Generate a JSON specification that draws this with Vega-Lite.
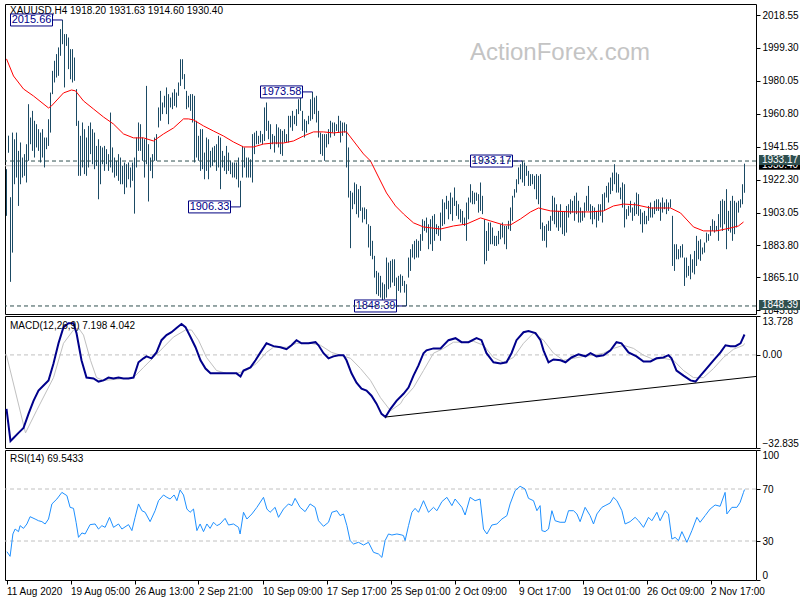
{
"$schema":"https://vega.github.io/schema/vega-lite/v6.json",
"background":"white",
"padding":{"left":2,"top":3,"right":0,"bottom":0},
"spacing":2,
"bounds":"flush",
"config":{
 "view":{"stroke":"black","strokeWidth":1},
 "axis":{"domain":false,"grid":false,"labelFont":"Liberation Sans","labelFontSize":10,"labelColor":"black","tickColor":"black","tickSize":4,"labelPadding":2,"labelOverlap":false},
 "text":{"font":"Liberation Sans"}
},
"datasets":{
"bars":[
{"i":0,"high":1928.4,"low":1901.1},{"i":1,"high":1948.0,"low":1938.0},{"i":2,"high":1912.0,"low":1862.5},{"i":3,"high":1949.8,"low":1879.6},{"i":4,"high":1945.9,"low":1919.6},{"i":5,"high":1949.8,"low":1923.5},{"i":6,"high":1939.1,"low":1906.9},{"i":7,"high":1944.0,"low":1919.6},{"i":8,"high":1935.2,"low":1923.5},{"i":9,"high":1937.2,"low":1924.5},
{"i":10,"high":1943.0,"low":1920.6},{"i":11,"high":1966.4,"low":1933.3},{"i":12,"high":1958.6,"low":1943.0},{"i":13,"high":1962.5,"low":1939.1},{"i":14,"high":1956.7,"low":1935.2},{"i":15,"high":1954.7,"low":1941.1},{"i":16,"high":1951.8,"low":1939.1},{"i":17,"high":1949.8,"low":1932.3},{"i":18,"high":1951.8,"low":1935.2},{"i":19,"high":1946.9,"low":1929.4},
{"i":20,"high":1946.9,"low":1940.1},{"i":21,"high":1957.6,"low":1942.0},{"i":22,"high":1973.2,"low":1949.8},{"i":23,"high":1985.9,"low":1972.3},{"i":24,"high":1991.8,"low":1979.1},{"i":25,"high":1995.7,"low":1982.0},{"i":26,"high":1999.6,"low":1983.0},{"i":27,"high":2010.3,"low":1994.7},{"i":28,"high":2015.66,"low":2001.5},{"i":29,"high":2007.4,"low":1976.2},
{"i":30,"high":2007.4,"low":2000.5},{"i":31,"high":2005.4,"low":1986.9},{"i":32,"high":1998.6,"low":1981.0},{"i":33,"high":1998.6,"low":1979.1},{"i":34,"high":1993.7,"low":1980.1},{"i":35,"high":1975.2,"low":1953.7},{"i":36,"high":1956.7,"low":1924.5},{"i":37,"high":1947.9,"low":1924.5},{"i":38,"high":1955.7,"low":1929.4},{"i":39,"high":1951.8,"low":1925.5},
{"i":40,"high":1946.9,"low":1924.5},{"i":41,"high":1953.7,"low":1929.4},{"i":42,"high":1955.7,"low":1937.2},{"i":43,"high":1951.8,"low":1931.3},{"i":44,"high":1949.8,"low":1928.4},{"i":45,"high":1942.0,"low":1930.3},{"i":46,"high":1945.9,"low":1910.8},{"i":47,"high":1942.0,"low":1919.6},{"i":48,"high":1941.1,"low":1931.3},{"i":49,"high":1942.0,"low":1927.4},
{"i":50,"high":1940.1,"low":1931.3},{"i":51,"high":1937.2,"low":1927.4},{"i":52,"high":1961.5,"low":1929.4},{"i":53,"high":1941.1,"low":1926.4},{"i":54,"high":1935.2,"low":1923.5},{"i":55,"high":1933.3,"low":1924.5},{"i":56,"high":1937.2,"low":1921.6},{"i":57,"high":1935.2,"low":1919.6},{"i":58,"high":1930.3,"low":1919.6},{"i":59,"high":1932.3,"low":1913.8},
{"i":60,"high":1931.3,"low":1917.7},{"i":61,"high":1932.3,"low":1922.5},{"i":62,"high":1929.4,"low":1917.7},{"i":63,"high":1932.3,"low":1921.6},{"i":64,"high":1935.2,"low":1902.4},{"i":65,"high":1946.9,"low":1929.4},{"i":66,"high":1955.7,"low":1939.1},{"i":67,"high":1954.7,"low":1939.1},{"i":68,"high":1946.9,"low":1933.3},{"i":69,"high":1945.9,"low":1923.5},
{"i":70,"high":1977.1,"low":1931.3},{"i":71,"high":1943.0,"low":1909.5},{"i":72,"high":1935.2,"low":1927.4},{"i":73,"high":1937.2,"low":1923.1},{"i":74,"high":1946.9,"low":1933.3},{"i":75,"high":1948.9,"low":1933.3},{"i":76,"high":1964.5,"low":1952.8},{"i":77,"high":1974.2,"low":1956.7},{"i":78,"high":1967.4,"low":1960.6},{"i":79,"high":1971.3,"low":1964.5},
{"i":80,"high":1976.2,"low":1960.6},{"i":81,"high":1972.3,"low":1954.7},{"i":82,"high":1970.3,"low":1964.5},{"i":83,"high":1973.2,"low":1963.5},{"i":84,"high":1975.2,"low":1965.4},{"i":85,"high":1973.2,"low":1964.5},{"i":86,"high":1979.1,"low":1971.3},{"i":87,"high":1992.7,"low":1977.1},{"i":88,"high":1992.7,"low":1981.0},{"i":89,"high":1984.0,"low":1975.2},
{"i":90,"high":1974.2,"low":1963.5},{"i":91,"high":1971.3,"low":1964.5},{"i":92,"high":1972.3,"low":1962.5},{"i":93,"high":1972.3,"low":1955.7},{"i":94,"high":1971.3,"low":1932.3},{"i":95,"high":1956.7,"low":1935.2},{"i":96,"high":1947.9,"low":1933.3},{"i":97,"high":1951.8,"low":1927.4},{"i":98,"high":1951.8,"low":1928.4},{"i":99,"high":1938.1,"low":1922.5},
{"i":100,"high":1946.9,"low":1927.4},{"i":101,"high":1945.9,"low":1922.5},{"i":102,"high":1939.1,"low":1929.4},{"i":103,"high":1941.1,"low":1930.3},{"i":104,"high":1942.0,"low":1932.3},{"i":105,"high":1943.0,"low":1927.4},{"i":106,"high":1947.9,"low":1929.4},{"i":107,"high":1946.9,"low":1916.7},{"i":108,"high":1939.1,"low":1929.4},{"i":109,"high":1936.2,"low":1927.4},
{"i":110,"high":1942.0,"low":1925.5},{"i":111,"high":1938.1,"low":1927.4},{"i":112,"high":1933.3,"low":1925.5},{"i":113,"high":1932.3,"low":1923.5},{"i":114,"high":1932.3,"low":1923.5},{"i":115,"high":1932.3,"low":1922.5},{"i":116,"high":1935.2,"low":1917.7},{"i":117,"high":1921.6,"low":1906.33},{"i":118,"high":1942.0,"low":1923.5},{"i":119,"high":1941.1,"low":1929.4},
{"i":120,"high":1935.2,"low":1923.5},{"i":121,"high":1935.2,"low":1923.5},{"i":122,"high":1934.2,"low":1923.5},{"i":123,"high":1948.9,"low":1920.6},{"i":124,"high":1949.8,"low":1937.2},{"i":125,"high":1950.8,"low":1943.0},{"i":126,"high":1947.9,"low":1943.0},{"i":127,"high":1950.8,"low":1944.0},{"i":128,"high":1948.9,"low":1943.0},{"i":129,"high":1964.5,"low":1944.9},
{"i":130,"high":1967.4,"low":1950.8},{"i":131,"high":1956.7,"low":1945.9},{"i":132,"high":1954.7,"low":1940.1},{"i":133,"high":1948.9,"low":1943.0},{"i":134,"high":1947.9,"low":1938.1},{"i":135,"high":1954.7,"low":1943.0},{"i":136,"high":1952.8,"low":1941.1},{"i":137,"high":1951.8,"low":1937.2},{"i":138,"high":1950.8,"low":1936.2},{"i":139,"high":1951.8,"low":1944.0},
{"i":140,"high":1948.9,"low":1944.0},{"i":141,"high":1959.6,"low":1944.0},{"i":142,"high":1959.6,"low":1952.8},{"i":143,"high":1962.5,"low":1950.8},{"i":144,"high":1959.6,"low":1954.7},{"i":145,"high":1963.5,"low":1953.7},{"i":146,"high":1969.3,"low":1960.6},{"i":147,"high":1970.3,"low":1962.5},{"i":148,"high":1962.5,"low":1950.8},{"i":149,"high":1957.6,"low":1946.9},
{"i":150,"high":1956.7,"low":1949.8},{"i":151,"high":1959.6,"low":1954.7},{"i":152,"high":1969.3,"low":1956.7},{"i":153,"high":1973.58,"low":1957.6},{"i":154,"high":1970.3,"low":1960.6},{"i":155,"high":1971.3,"low":1955.7},{"i":156,"high":1962.5,"low":1946.9},{"i":157,"high":1949.8,"low":1937.2},{"i":158,"high":1948.9,"low":1936.2},{"i":159,"high":1948.9,"low":1933.3},
{"i":160,"high":1948.9,"low":1941.1},{"i":161,"high":1951.8,"low":1943.0},{"i":162,"high":1956.7,"low":1946.9},{"i":163,"high":1955.7,"low":1949.8},{"i":164,"high":1955.7,"low":1947.9},{"i":165,"high":1954.7,"low":1950.8},{"i":166,"high":1959.6,"low":1949.8},{"i":167,"high":1956.7,"low":1944.0},{"i":168,"high":1955.7,"low":1947.9},{"i":169,"high":1955.7,"low":1949.8},
{"i":170,"high":1954.7,"low":1929.4},{"i":171,"high":1941.1,"low":1911.8},{"i":172,"high":1915.7,"low":1882.2},{"i":173,"high":1914.7,"low":1905.0},{"i":174,"high":1920.6,"low":1907.9},{"i":175,"high":1919.6,"low":1902.1},{"i":176,"high":1916.7,"low":1900.1},{"i":177,"high":1918.6,"low":1904.0},{"i":178,"high":1906.0,"low":1897.2},{"i":179,"high":1906.0,"low":1899.1},
{"i":180,"high":1905.0,"low":1896.2},{"i":181,"high":1896.2,"low":1882.6},{"i":182,"high":1895.2,"low":1877.7},{"i":183,"high":1886.5,"low":1875.7},{"i":184,"high":1877.7,"low":1865.0},{"i":185,"high":1868.9,"low":1855.3},{"i":186,"high":1867.9,"low":1854.3},{"i":187,"high":1866.0,"low":1853.3},{"i":188,"high":1862.1,"low":1851.4},{"i":189,"high":1861.1,"low":1852.3},
{"i":190,"high":1876.7,"low":1853.3},{"i":191,"high":1873.8,"low":1858.2},{"i":192,"high":1874.8,"low":1859.2},{"i":193,"high":1875.7,"low":1862.1},{"i":194,"high":1875.7,"low":1860.1},{"i":195,"high":1865.0,"low":1851.4},{"i":196,"high":1866.0,"low":1857.2},{"i":197,"high":1866.9,"low":1856.2},{"i":198,"high":1866.0,"low":1860.1},{"i":199,"high":1863.1,"low":1856.2},
{"i":200,"high":1861.1,"low":1848.39},{"i":201,"high":1876.7,"low":1865.0},{"i":202,"high":1881.6,"low":1868.9},{"i":203,"high":1884.5,"low":1876.7},{"i":204,"high":1886.5,"low":1875.7},{"i":205,"high":1887.4,"low":1876.7},{"i":206,"high":1886.5,"low":1876.7},{"i":207,"high":1890.4,"low":1880.6},{"i":208,"high":1899.1,"low":1886.5},{"i":209,"high":1898.2,"low":1892.3},
{"i":210,"high":1900.1,"low":1891.3},{"i":211,"high":1896.2,"low":1881.6},{"i":212,"high":1899.1,"low":1884.5},{"i":213,"high":1901.1,"low":1880.6},{"i":214,"high":1902.1,"low":1886.5},{"i":215,"high":1896.2,"low":1890.4},{"i":216,"high":1895.2,"low":1889.4},{"i":217,"high":1903.0,"low":1886.5},{"i":218,"high":1910.8,"low":1895.2},{"i":219,"high":1908.9,"low":1896.2},
{"i":220,"high":1912.8,"low":1905.0},{"i":221,"high":1909.9,"low":1899.1},{"i":222,"high":1914.7,"low":1902.1},{"i":223,"high":1911.8,"low":1898.2},{"i":224,"high":1917.7,"low":1906.9},{"i":225,"high":1909.9,"low":1901.1},{"i":226,"high":1907.9,"low":1899.1},{"i":227,"high":1905.0,"low":1897.2},{"i":228,"high":1904.0,"low":1896.2},{"i":229,"high":1900.1,"low":1895.2},
{"i":230,"high":1908.9,"low":1886.5},{"i":231,"high":1911.8,"low":1899.1},{"i":232,"high":1919.6,"low":1908.9},{"i":233,"high":1915.7,"low":1907.9},{"i":234,"high":1914.7,"low":1907.9},{"i":235,"high":1914.7,"low":1909.9},{"i":236,"high":1913.8,"low":1903.0},{"i":237,"high":1920.6,"low":1904.0},{"i":238,"high":1912.8,"low":1902.1},{"i":239,"high":1899.1,"low":1872.8},
{"i":240,"high":1892.3,"low":1874.8},{"i":241,"high":1897.2,"low":1880.6},{"i":242,"high":1897.2,"low":1884.5},{"i":243,"high":1894.3,"low":1884.5},{"i":244,"high":1889.4,"low":1883.5},{"i":245,"high":1889.4,"low":1883.5},{"i":246,"high":1892.3,"low":1884.5},{"i":247,"high":1896.2,"low":1887.4},{"i":248,"high":1897.2,"low":1888.4},{"i":249,"high":1895.2,"low":1884.5},
{"i":250,"high":1895.2,"low":1881.6},{"i":251,"high":1898.2,"low":1893.3},{"i":252,"high":1906.0,"low":1892.3},{"i":253,"high":1912.8,"low":1898.2},{"i":254,"high":1916.7,"low":1911.8},{"i":255,"high":1922.5,"low":1914.7},{"i":256,"high":1929.4,"low":1919.6},{"i":257,"high":1931.3,"low":1922.5},{"i":258,"high":1933.17,"low":1920.6},{"i":259,"high":1932.3,"low":1918.6},
{"i":260,"high":1930.3,"low":1924.5},{"i":261,"high":1927.4,"low":1918.6},{"i":262,"high":1925.5,"low":1918.6},{"i":263,"high":1925.5,"low":1919.6},{"i":264,"high":1924.5,"low":1916.7},{"i":265,"high":1925.5,"low":1910.8},{"i":266,"high":1924.5,"low":1907.9},{"i":267,"high":1925.5,"low":1893.3},{"i":268,"high":1897.2,"low":1886.5},{"i":269,"high":1895.2,"low":1886.5},
{"i":270,"high":1896.2,"low":1882.6},{"i":271,"high":1898.2,"low":1892.3},{"i":272,"high":1901.1,"low":1892.3},{"i":273,"high":1912.8,"low":1898.2},{"i":274,"high":1911.8,"low":1896.2},{"i":275,"high":1907.9,"low":1894.3},{"i":276,"high":1904.0,"low":1892.3},{"i":277,"high":1907.9,"low":1894.3},{"i":278,"high":1904.0,"low":1890.4},{"i":279,"high":1904.0,"low":1889.4},
{"i":280,"high":1906.9,"low":1891.3},{"i":281,"high":1907.9,"low":1900.1},{"i":282,"high":1910.8,"low":1902.1},{"i":283,"high":1909.9,"low":1903.0},{"i":284,"high":1912.8,"low":1898.2},{"i":285,"high":1914.7,"low":1902.1},{"i":286,"high":1909.9,"low":1897.2},{"i":287,"high":1906.0,"low":1897.2},{"i":288,"high":1904.0,"low":1898.2},{"i":289,"high":1908.9,"low":1900.1},
{"i":290,"high":1912.8,"low":1904.0},{"i":291,"high":1918.6,"low":1904.0},{"i":292,"high":1907.9,"low":1899.1},{"i":293,"high":1906.9,"low":1896.2},{"i":294,"high":1906.0,"low":1899.1},{"i":295,"high":1904.0,"low":1894.3},{"i":296,"high":1907.9,"low":1898.2},{"i":297,"high":1907.9,"low":1901.1},{"i":298,"high":1913.8,"low":1897.2},{"i":299,"high":1914.7,"low":1904.0},
{"i":300,"high":1918.6,"low":1911.8},{"i":301,"high":1920.6,"low":1908.9},{"i":302,"high":1923.5,"low":1913.8},{"i":303,"high":1926.4,"low":1915.7},{"i":304,"high":1931.3,"low":1919.6},{"i":305,"high":1926.4,"low":1914.7},{"i":306,"high":1925.5,"low":1914.7},{"i":307,"high":1917.7,"low":1910.8},{"i":308,"high":1920.6,"low":1905.9},{"i":309,"high":1919.6,"low":1894.3},
{"i":310,"high":1905.0,"low":1899.1},{"i":311,"high":1906.9,"low":1901.1},{"i":312,"high":1909.9,"low":1903.0},{"i":313,"high":1906.0,"low":1898.2},{"i":314,"high":1908.9,"low":1901.1},{"i":315,"high":1914.7,"low":1902.1},{"i":316,"high":1913.8,"low":1901.1},{"i":317,"high":1905.0,"low":1896.2},{"i":318,"high":1903.0,"low":1891.3},{"i":319,"high":1904.0,"low":1896.2},
{"i":320,"high":1901.1,"low":1896.2},{"i":321,"high":1906.9,"low":1898.2},{"i":322,"high":1908.9,"low":1900.1},{"i":323,"high":1906.0,"low":1900.1},{"i":324,"high":1909.9,"low":1902.1},{"i":325,"high":1910.8,"low":1904.0},{"i":326,"high":1910.8,"low":1904.0},{"i":327,"high":1908.9,"low":1898.2},{"i":328,"high":1911.8,"low":1903.0},{"i":329,"high":1908.9,"low":1905.0},
{"i":330,"high":1910.8,"low":1902.1},{"i":331,"high":1908.9,"low":1904.0},{"i":332,"high":1910.8,"low":1905.9},{"i":333,"high":1901.1,"low":1871.8},{"i":334,"high":1884.5,"low":1868.9},{"i":335,"high":1884.5,"low":1875.7},{"i":336,"high":1881.6,"low":1875.7},{"i":337,"high":1883.5,"low":1876.7},{"i":338,"high":1884.5,"low":1876.7},{"i":339,"high":1876.7,"low":1860.1},
{"i":340,"high":1876.7,"low":1865.0},{"i":341,"high":1871.8,"low":1866.0},{"i":342,"high":1878.6,"low":1864.0},{"i":343,"high":1875.7,"low":1867.9},{"i":344,"high":1880.6,"low":1866.9},{"i":345,"high":1889.4,"low":1871.8},{"i":346,"high":1886.5,"low":1875.7},{"i":347,"high":1887.4,"low":1874.8},{"i":348,"high":1882.6,"low":1878.6},{"i":349,"high":1885.5,"low":1879.6},
{"i":350,"high":1891.3,"low":1885.5},{"i":351,"high":1890.4,"low":1886.5},{"i":352,"high":1895.2,"low":1889.4},{"i":353,"high":1899.1,"low":1892.3},{"i":354,"high":1898.2,"low":1891.3},{"i":355,"high":1895.2,"low":1892.3},{"i":356,"high":1902.1,"low":1886.5},{"i":357,"high":1909.9,"low":1894.3},{"i":358,"high":1910.8,"low":1892.3},{"i":359,"high":1909.9,"low":1896.2},
{"i":360,"high":1916.7,"low":1881.6},{"i":361,"high":1904.0,"low":1892.3},{"i":362,"high":1909.9,"low":1891.3},{"i":363,"high":1912.8,"low":1886.5},{"i":364,"high":1909.9,"low":1890.4},{"i":365,"high":1908.9,"low":1894.3},{"i":366,"high":1909.9,"low":1903.0},{"i":367,"high":1910.8,"low":1905.9},{"i":368,"high":1919.6,"low":1907.9},{"i":369,"high":1931.63,"low":1914.6}
],
"ma":[
{"i":0,"ma":1992.9},{"i":3.5,"ma":1982.9},{"i":8.5,"ma":1975.3},{"i":13.5,"ma":1971.2},{"i":21,"ma":1964.2},{"i":22.5,"ma":1965.4},{"i":28.5,"ma":1973.0},{"i":32.5,"ma":1974.7},{"i":34.5,"ma":1974.2},{"i":38.5,"ma":1968.3},{"i":43.5,"ma":1963.6},{"i":48.5,"ma":1958.9},{"i":53.5,"ma":1954.8},{"i":58.5,"ma":1949.0},{"i":63.5,"ma":1946.7},{"i":68.5,"ma":1946.7},{"i":73.5,"ma":1944.9},{"i":78.5,"ma":1949.0},{"i":83.5,"ma":1952.5},{"i":88.5,"ma":1957.8},{"i":91,"ma":1957.8},{"i":93.5,"ma":1957.2},{"i":98.5,"ma":1953.7},{"i":103.5,"ma":1950.7},{"i":108.5,"ma":1947.8},{"i":113.5,"ma":1944.3},{"i":118.5,"ma":1941.4},{"i":123.5,"ma":1941.4},{"i":128.5,"ma":1943.1},{"i":133.5,"ma":1943.7},{"i":138.5,"ma":1943.7},{"i":143.5,"ma":1944.9},{"i":148.5,"ma":1947.8},{"i":153.5,"ma":1950.2},{"i":158.5,"ma":1950.2},{"i":163.5,"ma":1949.6},{"i":168.5,"ma":1950.2},{"i":170,"ma":1950.2},{"i":173.5,"ma":1944.9},{"i":178.5,"ma":1937.3},{"i":182,"ma":1933.2},{"i":186,"ma":1923.8},{"i":190,"ma":1914.5},{"i":194.5,"ma":1906.9},{"i":198.5,"ma":1902.2},{"i":203.5,"ma":1897.0},{"i":208.5,"ma":1894.6},{"i":217,"ma":1893.4},{"i":223.5,"ma":1895.2},{"i":230,"ma":1896.3},{"i":237,"ma":1899.9},{"i":242,"ma":1898.1},{"i":248.5,"ma":1895.8},{"i":252,"ma":1895.8},{"i":257,"ma":1899.3},{"i":262,"ma":1903.4},{"i":266,"ma":1905.7},{"i":272,"ma":1904.0},{"i":282,"ma":1903.4},{"i":292,"ma":1903.4},{"i":298.5,"ma":1904.0},{"i":303.5,"ma":1906.9},{"i":308.5,"ma":1908.0},{"i":315,"ma":1907.5},{"i":322,"ma":1905.7},{"i":332,"ma":1905.7},{"i":337,"ma":1902.8},{"i":343.5,"ma":1894.6},{"i":348.5,"ma":1892.3},{"i":355,"ma":1892.3},{"i":362,"ma":1894.0},{"i":366,"ma":1895.2},{"i":368.5,"ma":1897.5}
],
"macd":[
{"i":0,"macd":-19.0},{"i":2,"macd":-30.4},{"i":3.5,"macd":-29.3},{"i":6,"macd":-27.5},{"i":8.5,"macd":-25.8},{"i":11,"macd":-20.8},{"i":13.5,"macd":-16.2},{"i":16,"macd":-12.6},{"i":18.5,"macd":-10.8},{"i":21,"macd":-9.0},{"i":23.5,"macd":-3.0},{"i":26,"macd":4.1},{"i":28.5,"macd":9.8},{"i":31,"macd":11.2},{"i":33.5,"macd":11.2},{"i":35,"macd":7.7},{"i":37.5,"macd":-1.9},{"i":40,"macd":-8.0},{"i":43.5,"macd":-8.3},{"i":46,"macd":-9.4},{"i":48.5,"macd":-9.0},{"i":51,"macd":-8.0},{"i":53.5,"macd":-8.3},{"i":56,"macd":-8.0},{"i":58.5,"macd":-8.3},{"i":61,"macd":-8.3},{"i":63.5,"macd":-8.0},{"i":66,"macd":-2.6},{"i":68.5,"macd":-1.2},{"i":70,"macd":-0.5},{"i":72.5,"macd":-1.2},{"i":75,"macd":0.9},{"i":77.5,"macd":5.2},{"i":80,"macd":7.0},{"i":82.5,"macd":8.0},{"i":85,"macd":9.5},{"i":87.5,"macd":10.9},{"i":89.5,"macd":9.8},{"i":92,"macd":6.3},{"i":94.5,"macd":2.7},{"i":97,"macd":-1.9},{"i":99.5,"macd":-4.8},{"i":102,"macd":-6.5},{"i":105,"macd":-6.5},{"i":108.5,"macd":-6.5},{"i":112,"macd":-6.5},{"i":115,"macd":-6.5},{"i":117,"macd":-7.6},{"i":118.5,"macd":-5.5},{"i":122,"macd":-4.4},{"i":124.5,"macd":-1.9},{"i":127,"macd":0.9},{"i":130,"macd":4.1},{"i":133.5,"macd":3.1},{"i":137,"macd":2.7},{"i":140,"macd":2.0},{"i":142.5,"macd":3.4},{"i":145,"macd":5.2},{"i":147.5,"macd":4.1},{"i":151,"macd":4.1},{"i":154.5,"macd":4.5},{"i":156,"macd":3.4},{"i":158.5,"macd":0.6},{"i":161,"macd":-1.2},{"i":163.5,"macd":-0.5},{"i":166,"macd":-0.1},{"i":168.5,"macd":-0.1},{"i":170,"macd":-1.9},{"i":172.5,"macd":-6.5},{"i":175,"macd":-9.8},{"i":177.5,"macd":-11.9},{"i":180,"macd":-12.6},{"i":182.5,"macd":-14.4},{"i":185,"macd":-17.2},{"i":187.5,"macd":-20.8},{"i":189.5,"macd":-21.9},{"i":192,"macd":-19.0},{"i":195,"macd":-16.2},{"i":198.5,"macd":-13.7},{"i":201,"macd":-11.5},{"i":203.5,"macd":-7.3},{"i":206,"macd":-3.7},{"i":208.5,"macd":0.6},{"i":210,"macd":1.6},{"i":213.5,"macd":2.3},{"i":217,"macd":2.3},{"i":221,"macd":5.2},{"i":224.5,"macd":5.9},{"i":227.5,"macd":4.5},{"i":231,"macd":4.5},{"i":235,"macd":5.9},{"i":237.5,"macd":5.2},{"i":240,"macd":0.6},{"i":243.5,"macd":-2.6},{"i":247,"macd":-3.0},{"i":250,"macd":-2.6},{"i":252.5,"macd":0.6},{"i":255,"macd":5.2},{"i":258.5,"macd":8.0},{"i":261,"macd":8.4},{"i":264.5,"macd":7.7},{"i":267,"macd":5.2},{"i":268.5,"macd":1.6},{"i":271,"macd":-2.6},{"i":273.5,"macd":-1.6},{"i":277,"macd":-1.9},{"i":279.5,"macd":-2.6},{"i":282.5,"macd":-0.9},{"i":286,"macd":0.2},{"i":289.5,"macd":-0.5},{"i":292,"macd":0.6},{"i":295,"macd":-0.5},{"i":298.5,"macd":-0.1},{"i":302,"macd":1.6},{"i":305,"macd":4.5},{"i":307.5,"macd":4.1},{"i":311,"macd":0.9},{"i":315,"macd":-0.5},{"i":318.5,"macd":-2.3},{"i":322,"macd":-2.3},{"i":325,"macd":-1.2},{"i":328.5,"macd":-0.9},{"i":331,"macd":-0.1},{"i":332.5,"macd":-1.2},{"i":335,"macd":-5.5},{"i":338.5,"macd":-7.3},{"i":342,"macd":-9.0},{"i":344.5,"macd":-9.4},{"i":347,"macd":-7.3},{"i":350,"macd":-4.8},{"i":353.5,"macd":-1.9},{"i":357,"macd":0.9},{"i":359.5,"macd":3.4},{"i":362,"macd":3.1},{"i":364.5,"macd":3.1},{"i":367,"macd":4.1},{"i":369,"macd":7.198}
],
"signal":[
{"i":0,"signal":-0.1},{"i":9.5,"signal":-27.5},{"i":15,"signal":-19.7},{"i":23.5,"signal":-8.0},{"i":28.5,"signal":4.1},{"i":33.5,"signal":8.8},{"i":36,"signal":9.5},{"i":38.5,"signal":7.0},{"i":42,"signal":-1.9},{"i":45,"signal":-8.0},{"i":48.5,"signal":-9.0},{"i":63.5,"signal":-8.0},{"i":68.5,"signal":-4.4},{"i":73.5,"signal":-0.9},{"i":78.5,"signal":2.7},{"i":83.5,"signal":6.3},{"i":89.5,"signal":8.8},{"i":92.5,"signal":8.8},{"i":96,"signal":5.2},{"i":100,"signal":-0.9},{"i":105,"signal":-5.5},{"i":110,"signal":-6.5},{"i":115,"signal":-6.5},{"i":120,"signal":-5.5},{"i":125,"signal":-3.0},{"i":130,"signal":0.9},{"i":133.5,"signal":2.7},{"i":140,"signal":2.7},{"i":145,"signal":4.1},{"i":152,"signal":4.1},{"i":157,"signal":3.4},{"i":162.5,"signal":0.9},{"i":167,"signal":-0.1},{"i":172,"signal":-1.2},{"i":177,"signal":-4.8},{"i":182,"signal":-9.0},{"i":187,"signal":-15.1},{"i":192,"signal":-19.7},{"i":197,"signal":-17.2},{"i":198.5,"signal":-15.4},{"i":203.5,"signal":-11.5},{"i":208.5,"signal":-5.5},{"i":213.5,"signal":0.6},{"i":218.5,"signal":2.3},{"i":223.5,"signal":4.5},{"i":228.5,"signal":4.5},{"i":233.5,"signal":4.8},{"i":238.5,"signal":3.4},{"i":243.5,"signal":-0.9},{"i":248.5,"signal":-2.6},{"i":253.5,"signal":-0.9},{"i":258.5,"signal":4.1},{"i":263.5,"signal":7.7},{"i":268.5,"signal":5.2},{"i":273.5,"signal":0.6},{"i":278.5,"signal":-1.9},{"i":283.5,"signal":-1.2},{"i":288.5,"signal":-0.5},{"i":293.5,"signal":-0.1},{"i":298.5,"signal":0.6},{"i":303.5,"signal":2.3},{"i":308.5,"signal":3.4},{"i":313.5,"signal":2.3},{"i":318.5,"signal":-0.1},{"i":323.5,"signal":-1.6},{"i":328.5,"signal":-1.2},{"i":333.5,"signal":-1.9},{"i":338.5,"signal":-5.5},{"i":343.5,"signal":-8.0},{"i":348.5,"signal":-8.0},{"i":353.5,"signal":-4.8},{"i":358.5,"signal":-0.9},{"i":363.5,"signal":2.0},{"i":368.5,"signal":3.4},{"i":369,"signal":4.042}
],
"trend":[{"i":189.5,"macd":-21.9},{"i":374.75,"macd":-7.6}],
"rsi":[
{"i":0.2,"rsi":21.8},{"i":1.8,"rsi":18.2},{"i":3.2,"rsi":35.4},{"i":4.3,"rsi":39.2},{"i":6,"rsi":37.2},{"i":6.8,"rsi":41.8},{"i":8.5,"rsi":39.7},{"i":10.2,"rsi":43.1},{"i":11.8,"rsi":48.7},{"i":14.3,"rsi":46.9},{"i":16,"rsi":45.6},{"i":17.7,"rsi":44.9},{"i":19.3,"rsi":43.1},{"i":21,"rsi":46.9},{"i":22.7,"rsi":58.5},{"i":25.2,"rsi":62.3},{"i":27.7,"rsi":67.4},{"i":30.2,"rsi":64.9},{"i":31.8,"rsi":55.9},{"i":33.5,"rsi":55.1},{"i":34.8,"rsi":44.4},{"i":36,"rsi":32.8},{"i":37.7,"rsi":36.2},{"i":39.3,"rsi":35.4},{"i":41.8,"rsi":42.6},{"i":44.3,"rsi":43.1},{"i":46,"rsi":39.2},{"i":47.7,"rsi":41.8},{"i":49.3,"rsi":40.5},{"i":51.5,"rsi":48.2},{"i":53.5,"rsi":40.5},{"i":56,"rsi":43.1},{"i":57.7,"rsi":39.2},{"i":61,"rsi":42.6},{"i":62.7,"rsi":38.0},{"i":64.3,"rsi":48.2},{"i":66,"rsi":58.5},{"i":67.7,"rsi":53.3},{"i":69.3,"rsi":52.1},{"i":71.8,"rsi":44.9},{"i":74.3,"rsi":53.3},{"i":76,"rsi":61.0},{"i":78.5,"rsi":65.4},{"i":80.2,"rsi":63.6},{"i":81.8,"rsi":62.3},{"i":83.8,"rsi":65.4},{"i":85.2,"rsi":61.0},{"i":86.8,"rsi":69.2},{"i":88.5,"rsi":65.4},{"i":90.2,"rsi":54.6},{"i":91.8,"rsi":52.1},{"i":93.5,"rsi":54.6},{"i":95.2,"rsi":38.0},{"i":96.8,"rsi":43.1},{"i":98.5,"rsi":37.2},{"i":100.2,"rsi":43.1},{"i":101.8,"rsi":39.7},{"i":103.5,"rsi":44.4},{"i":105.2,"rsi":41.8},{"i":106.8,"rsi":43.1},{"i":109.3,"rsi":47.4},{"i":111,"rsi":42.3},{"i":113.5,"rsi":43.1},{"i":116,"rsi":40.5},{"i":116.8,"rsi":35.4},{"i":118.5,"rsi":52.1},{"i":120.2,"rsi":46.9},{"i":122.7,"rsi":50.8},{"i":125.2,"rsi":55.9},{"i":128.5,"rsi":63.6},{"i":130.2,"rsi":54.6},{"i":131.8,"rsi":52.1},{"i":134.3,"rsi":55.9},{"i":136,"rsi":48.2},{"i":138.5,"rsi":54.6},{"i":141,"rsi":58.5},{"i":142.7,"rsi":57.2},{"i":144.3,"rsi":62.8},{"i":146.8,"rsi":55.9},{"i":149.3,"rsi":52.6},{"i":151.8,"rsi":58.5},{"i":154.3,"rsi":55.9},{"i":156,"rsi":45.6},{"i":158.5,"rsi":41.3},{"i":161,"rsi":44.4},{"i":162.7,"rsi":52.1},{"i":165.2,"rsi":53.3},{"i":166.8,"rsi":49.5},{"i":168.5,"rsi":50.8},{"i":170.2,"rsi":41.8},{"i":171.8,"rsi":30.3},{"i":173.5,"rsi":27.7},{"i":176,"rsi":29.0},{"i":178.5,"rsi":26.9},{"i":181,"rsi":29.0},{"i":183.5,"rsi":21.3},{"i":186,"rsi":20.0},{"i":187.7,"rsi":17.4},{"i":189.3,"rsi":30.3},{"i":191,"rsi":35.4},{"i":192.7,"rsi":34.6},{"i":195.2,"rsi":35.4},{"i":197.7,"rsi":34.6},{"i":198.5,"rsi":34.1},{"i":199.3,"rsi":30.3},{"i":201,"rsi":41.8},{"i":202.7,"rsi":52.1},{"i":204.3,"rsi":55.1},{"i":206,"rsi":52.1},{"i":208.5,"rsi":61.0},{"i":211,"rsi":52.1},{"i":213.5,"rsi":55.9},{"i":215.2,"rsi":53.3},{"i":217.7,"rsi":60.3},{"i":220.2,"rsi":63.6},{"i":222.7,"rsi":57.2},{"i":224.3,"rsi":62.3},{"i":227.7,"rsi":55.9},{"i":229.3,"rsi":50.0},{"i":231.8,"rsi":63.6},{"i":234.3,"rsi":61.0},{"i":236.8,"rsi":62.3},{"i":238.5,"rsi":39.2},{"i":240.2,"rsi":35.4},{"i":242.7,"rsi":42.3},{"i":245.2,"rsi":43.1},{"i":247.7,"rsi":46.9},{"i":250.2,"rsi":49.5},{"i":251.8,"rsi":58.5},{"i":254.3,"rsi":68.7},{"i":256.8,"rsi":72.1},{"i":259.3,"rsi":70.0},{"i":261,"rsi":62.8},{"i":263.5,"rsi":61.0},{"i":265.2,"rsi":53.3},{"i":266.8,"rsi":57.2},{"i":267.7,"rsi":38.0},{"i":269.3,"rsi":37.2},{"i":271,"rsi":39.2},{"i":272.7,"rsi":53.3},{"i":274.3,"rsi":45.6},{"i":276.8,"rsi":44.4},{"i":279.3,"rsi":44.4},{"i":281,"rsi":53.3},{"i":283.5,"rsi":53.3},{"i":285.2,"rsi":50.8},{"i":286.8,"rsi":44.9},{"i":289.3,"rsi":55.9},{"i":291.8,"rsi":49.5},{"i":293.5,"rsi":43.1},{"i":295.2,"rsi":50.8},{"i":297.7,"rsi":55.9},{"i":299.3,"rsi":57.2},{"i":301.8,"rsi":59.2},{"i":303.5,"rsi":63.6},{"i":305.2,"rsi":61.0},{"i":307.7,"rsi":53.3},{"i":309.3,"rsi":43.1},{"i":311.8,"rsi":44.9},{"i":314.3,"rsi":48.2},{"i":316,"rsi":45.6},{"i":318.5,"rsi":40.5},{"i":321,"rsi":48.2},{"i":322.7,"rsi":45.6},{"i":325.2,"rsi":52.1},{"i":326.8,"rsi":45.6},{"i":329.3,"rsi":53.3},{"i":331,"rsi":50.8},{"i":332.7,"rsi":31.5},{"i":334.3,"rsi":32.8},{"i":336,"rsi":30.3},{"i":337.7,"rsi":37.2},{"i":340.2,"rsi":29.0},{"i":342.7,"rsi":38.0},{"i":345.2,"rsi":48.2},{"i":346.8,"rsi":44.4},{"i":349.3,"rsi":49.5},{"i":351.8,"rsi":54.6},{"i":354.3,"rsi":57.7},{"i":356.8,"rsi":56.7},{"i":359.3,"rsi":67.4},{"i":360.2,"rsi":50.8},{"i":362.7,"rsi":55.9},{"i":365.2,"rsi":55.9},{"i":366.8,"rsi":59.7},{"i":368.5,"rsi":67.4},{"i":369,"rsi":69.5433}
],
"labels":[{"i":28,"price":2015.66,"label":"2015.66"},{"i":153,"price":1973.58,"label":"1973.58"},{"i":117,"price":1906.33,"label":"1906.33"},{"i":200,"price":1848.39,"label":"1848.39"},{"i":258,"price":1933.17,"label":"1933.17"}]
},
"vconcat":[
{
"width":751,"height":310,
"layer":[
{"data":{"values":[{"price":1930.40}]},"mark":{"type":"rule","color":"#c0c0c0","strokeWidth":1},
 "encoding":{"y":{"field":"price","type":"quantitative","scale":{"domain":[1843.7,2025.0],"nice":false,"zero":false},"axis":{"orient":"right","values":[2018.55,1999.3,1980.05,1960.8,1941.55,1922.3,1903.05,1883.8,1865.1,1845.85],"format":".2f","title":null}}}},
{"data":{"name":"bars"},"mark":{"type":"rule","color":"#1b4a64","strokeWidth":1},
 "encoding":{
  "x":{"field":"i","type":"quantitative","scale":{"domain":[-0.75,374.75],"nice":false,"zero":false},"axis":null},
  "y":{"field":"high","type":"quantitative","scale":{"domain":[1843.7,2025.0],"nice":false,"zero":false},"axis":{"orient":"right","values":[2018.55,1999.3,1980.05,1960.8,1941.55,1922.3,1903.05,1883.8,1865.1,1845.85],"format":".2f","title":null}},
  "y2":{"field":"low"}}},
{"data":{"name":"ma"},"mark":{"type":"line","color":"#ff0000","strokeWidth":1},
 "encoding":{
  "x":{"field":"i","type":"quantitative","scale":{"domain":[-0.75,374.75],"nice":false,"zero":false},"axis":null},
  "y":{"field":"ma","type":"quantitative","scale":{"domain":[1843.7,2025.0],"nice":false,"zero":false},"axis":{"orient":"right","values":[2018.55,1999.3,1980.05,1960.8,1941.55,1922.3,1903.05,1883.8,1865.1,1845.85],"format":".2f","title":null}}}},
{"data":{"values":[{}]},"mark":{"type":"text","align":"left","baseline":"middle","fontSize":10,"color":"black"},
 "encoding":{
  "x":{"datum":1.75,"type":"quantitative","scale":{"domain":[-0.75,374.75],"nice":false,"zero":false},"axis":null},
  "y":{"datum":2020.9,"type":"quantitative","scale":{"domain":[1843.7,2025.0],"nice":false,"zero":false},"axis":{"orient":"right","values":[2018.55,1999.3,1980.05,1960.8,1941.55,1922.3,1903.05,1883.8,1865.1,1845.85],"format":".2f","title":null}},
  "text":{"value":"XAUUSD,H4  1918.20 1931.63 1914.60 1930.40"}}},
{"data":{"values":[{}]},"mark":{"type":"text","align":"center","baseline":"middle","fontSize":24,"color":"#c4c4c4"},
 "encoding":{
  "x":{"datum":276.75,"type":"quantitative","scale":{"domain":[-0.75,374.75],"nice":false,"zero":false},"axis":null},
  "y":{"datum":1996.3,"type":"quantitative","scale":{"domain":[1843.7,2025.0],"nice":false,"zero":false},"axis":{"orient":"right","values":[2018.55,1999.3,1980.05,1960.8,1941.55,1922.3,1903.05,1883.8,1865.1,1845.85],"format":".2f","title":null}},
  "text":{"value":"ActionForex.com"}}},
{"data":{"name":"labels"},"mark":{"type":"point","shape":"M-52,-6H-10V6H-52Z M-10,0H0","size":4,"filled":true,"fill":"white","stroke":"#000080","strokeWidth":1,"opacity":1},
 "encoding":{
  "x":{"field":"i","type":"quantitative","scale":{"domain":[-0.75,374.75],"nice":false,"zero":false},"axis":null},
  "y":{"field":"price","type":"quantitative","scale":{"domain":[1843.7,2025.0],"nice":false,"zero":false},"axis":{"orient":"right","values":[2018.55,1999.3,1980.05,1960.8,1941.55,1922.3,1903.05,1883.8,1865.1,1845.85],"format":".2f","title":null}}}},
{"data":{"name":"labels"},"mark":{"type":"text","dx":-31,"align":"center","baseline":"middle","fontSize":11,"color":"#00008b"},
 "encoding":{
  "x":{"field":"i","type":"quantitative","scale":{"domain":[-0.75,374.75],"nice":false,"zero":false},"axis":null},
  "y":{"field":"price","type":"quantitative","scale":{"domain":[1843.7,2025.0],"nice":false,"zero":false},"axis":{"orient":"right","values":[2018.55,1999.3,1980.05,1960.8,1941.55,1922.3,1903.05,1883.8,1865.1,1845.85],"format":".2f","title":null}},
  "text":{"field":"label"}}},
{"data":{"values":[{"price":1933.17},{"price":1848.39}]},"mark":{"type":"rule","color":"#2f4f4f","strokeWidth":1,"strokeDash":[4,3]},
 "encoding":{"y":{"field":"price","type":"quantitative","scale":{"domain":[1843.7,2025.0],"nice":false,"zero":false},"axis":{"orient":"right","values":[2018.55,1999.3,1980.05,1960.8,1941.55,1922.3,1903.05,1883.8,1865.1,1845.85],"format":".2f","title":null}}}},
{"data":{"values":[{"price":1930.40,"label":"1930.40"}]},"mark":{"type":"point","shape":"M0,-6H42V4H0Z","size":4,"filled":true,"fill":"black","strokeWidth":0,"opacity":1},
 "encoding":{
  "x":{"datum":376.25,"type":"quantitative","scale":{"domain":[-0.75,374.75],"nice":false,"zero":false},"axis":null},
  "y":{"field":"price","type":"quantitative","scale":{"domain":[1843.7,2025.0],"nice":false,"zero":false},"axis":{"orient":"right","values":[2018.55,1999.3,1980.05,1960.8,1941.55,1922.3,1903.05,1883.8,1865.1,1845.85],"format":".2f","title":null}}}},
{"data":{"values":[{"price":1930.40,"label":"1930.40"}]},"mark":{"type":"text","dx":21,"dy":-1,"align":"center","baseline":"middle","fontSize":10,"color":"white"},
 "encoding":{
  "x":{"datum":376.25,"type":"quantitative","scale":{"domain":[-0.75,374.75],"nice":false,"zero":false},"axis":null},
  "y":{"field":"price","type":"quantitative","scale":{"domain":[1843.7,2025.0],"nice":false,"zero":false},"axis":{"orient":"right","values":[2018.55,1999.3,1980.05,1960.8,1941.55,1922.3,1903.05,1883.8,1865.1,1845.85],"format":".2f","title":null}},
  "text":{"field":"label"}}},
{"data":{"values":[{"price":1933.17,"label":"1933.17"},{"price":1848.39,"label":"1848.39"}]},"mark":{"type":"point","shape":"M0,-6H42V4H0Z","size":4,"filled":true,"fill":"#2f4f4f","strokeWidth":0,"opacity":1},
 "encoding":{
  "x":{"datum":376.25,"type":"quantitative","scale":{"domain":[-0.75,374.75],"nice":false,"zero":false},"axis":null},
  "y":{"field":"price","type":"quantitative","scale":{"domain":[1843.7,2025.0],"nice":false,"zero":false},"axis":{"orient":"right","values":[2018.55,1999.3,1980.05,1960.8,1941.55,1922.3,1903.05,1883.8,1865.1,1845.85],"format":".2f","title":null}}}},
{"data":{"values":[{"price":1933.17,"label":"1933.17"},{"price":1848.39,"label":"1848.39"}]},"mark":{"type":"text","dx":21,"dy":-1,"align":"center","baseline":"middle","fontSize":10,"color":"white"},
 "encoding":{
  "x":{"datum":376.25,"type":"quantitative","scale":{"domain":[-0.75,374.75],"nice":false,"zero":false},"axis":null},
  "y":{"field":"price","type":"quantitative","scale":{"domain":[1843.7,2025.0],"nice":false,"zero":false},"axis":{"orient":"right","values":[2018.55,1999.3,1980.05,1960.8,1941.55,1922.3,1903.05,1883.8,1865.1,1845.85],"format":".2f","title":null}},
  "text":{"field":"label"}}}
]
},
{
"width":751,"height":132,
"layer":[
{"data":{"values":[{"macd":0}]},"mark":{"type":"rule","color":"#c0c0c0","strokeWidth":1,"strokeDash":[4,3]},
 "encoding":{"y":{"field":"macd","type":"quantitative","scale":{"domain":[-32.835,13.728],"nice":false,"zero":false},"axis":{"orient":"right","values":[-32.835,0,13.728],"labelExpr":"datum.value == 0 ? '0.00' : format(datum.value, '.3f')","labelFlush":true,"title":null}}}},
{"data":{"name":"signal"},"mark":{"type":"line","color":"#c0c0c0","strokeWidth":1},
 "encoding":{
  "x":{"field":"i","type":"quantitative","scale":{"domain":[-0.75,374.75],"nice":false,"zero":false},"axis":null},
  "y":{"field":"signal","type":"quantitative","scale":{"domain":[-32.835,13.728],"nice":false,"zero":false},"axis":{"orient":"right","values":[-32.835,0,13.728],"labelExpr":"datum.value == 0 ? '0.00' : format(datum.value, '.3f')","labelFlush":true,"title":null}}}},
{"data":{"name":"macd"},"mark":{"type":"line","color":"#00008b","strokeWidth":2},
 "encoding":{
  "x":{"field":"i","type":"quantitative","scale":{"domain":[-0.75,374.75],"nice":false,"zero":false},"axis":null},
  "y":{"field":"macd","type":"quantitative","scale":{"domain":[-32.835,13.728],"nice":false,"zero":false},"axis":{"orient":"right","values":[-32.835,0,13.728],"labelExpr":"datum.value == 0 ? '0.00' : format(datum.value, '.3f')","labelFlush":true,"title":null}}}},
{"data":{"name":"trend"},"mark":{"type":"line","color":"black","strokeWidth":1},
 "encoding":{
  "x":{"field":"i","type":"quantitative","scale":{"domain":[-0.75,374.75],"nice":false,"zero":false},"axis":null},
  "y":{"field":"macd","type":"quantitative","scale":{"domain":[-32.835,13.728],"nice":false,"zero":false},"axis":{"orient":"right","values":[-32.835,0,13.728],"labelExpr":"datum.value == 0 ? '0.00' : format(datum.value, '.3f')","labelFlush":true,"title":null}}}},
{"data":{"values":[{}]},"mark":{"type":"text","align":"left","baseline":"middle","fontSize":10,"color":"black"},
 "encoding":{
  "x":{"datum":1.75,"type":"quantitative","scale":{"domain":[-0.75,374.75],"nice":false,"zero":false},"axis":null},
  "y":{"datum":10.2,"type":"quantitative","scale":{"domain":[-32.835,13.728],"nice":false,"zero":false},"axis":{"orient":"right","values":[-32.835,0,13.728],"labelExpr":"datum.value == 0 ? '0.00' : format(datum.value, '.3f')","labelFlush":true,"title":null}},
  "text":{"value":"MACD(12,26,9) 7.198 4.042"}}}
]
},
{
"width":751,"height":130,
"layer":[
{"data":{"values":[{"rsi":30},{"rsi":70}]},"mark":{"type":"rule","color":"#c0c0c0","strokeWidth":1,"strokeDash":[4,3]},
 "encoding":{"y":{"field":"rsi","type":"quantitative","scale":{"domain":[0,100],"nice":false,"zero":false},"axis":{"orient":"right","values":[0,30,70,100],"format":"d","labelFlush":true,"title":null}}}},
{"data":{"name":"rsi"},"mark":{"type":"line","color":"#1e90ff","strokeWidth":1},
 "encoding":{
  "x":{"field":"i","type":"quantitative","scale":{"domain":[-0.75,374.75],"nice":false,"zero":false},
       "axis":{"orient":"bottom","values":[0,32,64,96,128,160,192,224,256,288,320,352],"labelExpr":"['11 Aug 2020','19 Aug 05:00','26 Aug 13:00','2 Sep 21:00','10 Sep 09:00','17 Sep 17:00','25 Sep 01:00','2 Oct 09:00','9 Oct 17:00','19 Oct 01:00','26 Oct 09:00','2 Nov 17:00'][round(datum.value/32)]","labelAlign":"left","labelFlush":false,"labelBaseline":"top","labelPadding":2,"labelDx":1,"title":null}},
  "y":{"field":"rsi","type":"quantitative","scale":{"domain":[0,100],"nice":false,"zero":false},"axis":{"orient":"right","values":[0,30,70,100],"format":"d","labelFlush":true,"title":null}}}},
{"data":{"values":[{}]},"mark":{"type":"text","align":"left","baseline":"middle","fontSize":10,"color":"black"},
 "encoding":{
  "x":{"datum":1.75,"type":"quantitative","scale":{"domain":[-0.75,374.75],"nice":false,"zero":false},
       "axis":{"orient":"bottom","values":[0,32,64,96,128,160,192,224,256,288,320,352],"labelExpr":"['11 Aug 2020','19 Aug 05:00','26 Aug 13:00','2 Sep 21:00','10 Sep 09:00','17 Sep 17:00','25 Sep 01:00','2 Oct 09:00','9 Oct 17:00','19 Oct 01:00','26 Oct 09:00','2 Nov 17:00'][round(datum.value/32)]","labelAlign":"left","labelFlush":false,"labelBaseline":"top","labelPadding":2,"labelDx":1,"title":null}},
  "y":{"datum":93.3,"type":"quantitative","scale":{"domain":[0,100],"nice":false,"zero":false},"axis":{"orient":"right","values":[0,30,70,100],"format":"d","labelFlush":true,"title":null}},
  "text":{"value":"RSI(14) 69.5433"}}}
]
}
]
}
